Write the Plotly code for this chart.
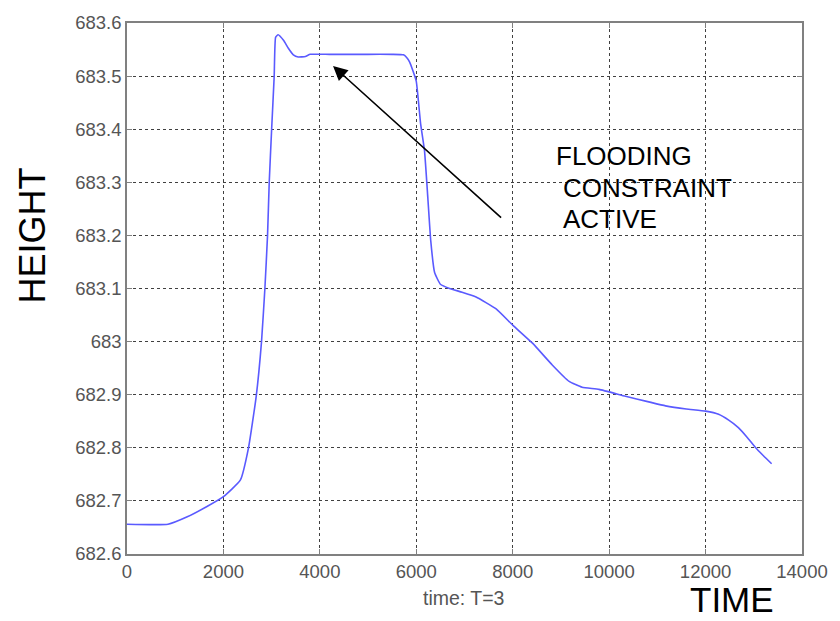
import plotly.graph_objects as go

# Tank level trajectory (time in s, height in m)
time_s = [0, 850, 1250, 1650, 2000, 2350, 2520, 2680, 2790, 2860, 2915, 2950,
          3000, 3053, 3082, 3135, 3250, 3350, 3450, 3550, 3700, 3800, 4200,
          5000, 5500, 5735, 5800, 5860, 5930, 6000, 6090, 6170, 6240, 6300,
          6380, 6500, 6690, 6950, 7240, 7650, 8000, 8410, 8820, 9170, 9440,
          9790, 10340, 10800, 11170, 11600, 12000, 12270, 12480, 12680,
          12860, 13030, 13200, 13370]
height_m = [682.656, 682.656, 682.670, 682.689, 682.708, 682.739, 682.800,
            682.897, 683.000, 683.100, 683.200, 683.300, 683.400, 683.500,
            683.573, 683.578, 683.567, 683.552, 683.540, 683.536, 683.537,
            683.541, 683.541, 683.541, 683.541, 683.540, 683.535, 683.527,
            683.510, 683.490, 683.410, 683.360, 683.270, 683.190, 683.130,
            683.108, 683.100, 683.093, 683.084, 683.062, 683.031, 682.997,
            682.956, 682.925, 682.914, 682.910, 682.897, 682.887, 682.879,
            682.873, 682.869, 682.863, 682.852, 682.838, 682.820, 682.801,
            682.785, 682.770]

x_ticks = [0, 2000, 4000, 6000, 8000, 10000, 12000, 14000]
y_ticks = [682.6, 682.7, 682.8, 682.9, 683.0, 683.1, 683.2, 683.3, 683.4,
           683.5, 683.6]
y_tick_text = ["682.6", "682.7", "682.8", "682.9", "683", "683.1", "683.2",
               "683.3", "683.4", "683.5", "683.6"]

# Arrow pointing at the constrained plateau
arrow_head = (4273, 683.519)
arrow_tail = (7790, 683.231)

FONT = "Liberation Sans, Arial, sans-serif"

fig = go.Figure()
fig.add_trace(go.Scatter(
    x=time_s, y=height_m, mode="lines",
    line=dict(color="#5a5aff", width=1.6, shape="spline", smoothing=0.4),
    hoverinfo="skip", showlegend=False,
))

axis_common = dict(
    showline=True, linecolor="#808080", linewidth=1.5, mirror="ticks",
    ticks="inside", ticklen=5, tickcolor="#808080",
    showgrid=True, gridcolor="#404040", griddash="dot", gridwidth=1,
    zeroline=False,
    tickfont=dict(family=FONT, size=18.5, color="#555555"),
)

fig.update_xaxes(range=[0, 14000], tickvals=x_ticks,
                 ticktext=[str(v) for v in x_ticks], **axis_common)
fig.update_yaxes(range=[682.6, 683.6], tickvals=y_ticks,
                 ticktext=y_tick_text, **axis_common)

annotations = [
    dict(text="time: T=3", xref="paper", yref="paper", x=0.4985, y=-0.083,
         xanchor="center", yanchor="middle", showarrow=False,
         font=dict(family=FONT, size=19.5, color="#555555")),
    dict(text="HEIGHT", xref="paper", yref="paper", x=-0.1403, y=0.6004,
         xanchor="center", yanchor="middle", showarrow=False, textangle=-90,
         font=dict(family=FONT, size=36, color="black")),
    dict(text="TIME", xref="paper", yref="paper", x=0.897, y=-0.086,
         xanchor="center", yanchor="middle", showarrow=False,
         font=dict(family=FONT, size=35, color="black")),
    dict(text="FLOODING", xref="paper", yref="paper", x=0.6327, y=0.749,
         xanchor="left", yanchor="middle", showarrow=False,
         font=dict(family=FONT, size=26, color="black")),
    dict(text="CONSTRAINT", xref="paper", yref="paper", x=0.6426, y=0.689,
         xanchor="left", yanchor="middle", showarrow=False,
         font=dict(family=FONT, size=26, color="black")),
    dict(text="ACTIVE", xref="paper", yref="paper", x=0.6426, y=0.631,
         xanchor="left", yanchor="middle", showarrow=False,
         font=dict(family=FONT, size=26, color="black")),
    dict(text="", x=arrow_head[0], y=arrow_head[1], xref="x", yref="y",
         ax=arrow_tail[0], ay=arrow_tail[1], axref="x", ayref="y",
         showarrow=True, arrowhead=2, arrowsize=1.8, arrowwidth=1.6,
         arrowcolor="black", standoff=0, startstandoff=0),
]

fig.update_layout(
    width=840, height=621,
    margin=dict(l=127, r=36, t=18, b=67),
    paper_bgcolor="white", plot_bgcolor="white",
    annotations=annotations,
    font=dict(family=FONT),
)

fig.write_html("out.html")
